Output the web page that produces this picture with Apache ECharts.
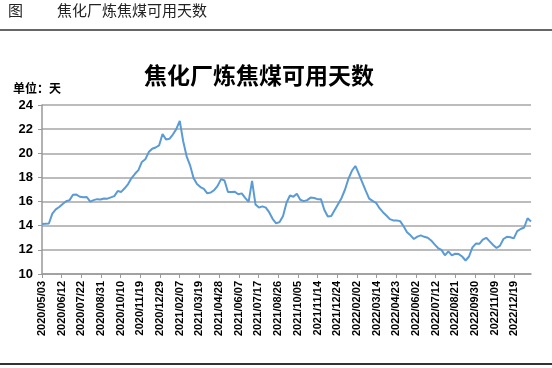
<!DOCTYPE html>
<html><head><meta charset="utf-8">
<script src="https://cdn.jsdelivr.net/npm/echarts@6/dist/echarts.min.js"></script>
<style>html,body{margin:0;padding:0;background:#fff}#c{width:552px;height:368px}</style>
</head><body><div id="c"></div>
<script>
const headerLabel = '图';
const headerTitle = '焦化厂炼焦煤可用天数';
const chartTitle = '焦化厂炼焦煤可用天数';
const unitLabel = '单位：天';

const dates = [
'2020/05/03','2020/05/10','2020/05/17','2020/05/24','2020/05/31','2020/06/07','2020/06/14','2020/06/21','2020/06/28',
'2020/07/05','2020/07/12','2020/07/19','2020/07/26','2020/08/02','2020/08/09','2020/08/16','2020/08/23','2020/08/30',
'2020/09/06','2020/09/13','2020/09/20','2020/09/27','2020/10/04','2020/10/11','2020/10/18','2020/10/25',
'2020/11/01','2020/11/08','2020/11/15','2020/11/22','2020/11/29','2020/12/06','2020/12/13','2020/12/20','2020/12/27',
'2021/01/03','2021/01/10','2021/01/17','2021/01/24','2021/01/31','2021/02/07','2021/02/14','2021/02/21','2021/02/28',
'2021/03/07','2021/03/14','2021/03/21','2021/03/28','2021/04/04','2021/04/11','2021/04/18','2021/04/25',
'2021/05/02','2021/05/09','2021/05/16','2021/05/23','2021/05/30','2021/06/06','2021/06/13','2021/06/20','2021/06/27',
'2021/07/04','2021/07/11','2021/07/18','2021/07/25','2021/08/01','2021/08/08','2021/08/15','2021/08/22','2021/08/29',
'2021/09/05','2021/09/12','2021/09/19','2021/09/26','2021/10/03','2021/10/10','2021/10/17','2021/10/24','2021/10/31',
'2021/11/07','2021/11/14','2021/11/21','2021/11/28','2021/12/05','2021/12/12','2021/12/19','2021/12/26',
'2022/01/02','2022/01/09','2022/01/16','2022/01/23','2022/01/30','2022/02/06','2022/02/13','2022/02/20','2022/02/27',
'2022/03/06','2022/03/13','2022/03/20','2022/03/27','2022/04/03','2022/04/10','2022/04/17','2022/04/24',
'2022/05/01','2022/05/08','2022/05/15','2022/05/22','2022/05/29','2022/06/05','2022/06/12','2022/06/19','2022/06/26',
'2022/07/03','2022/07/10','2022/07/17','2022/07/24','2022/07/31','2022/08/07','2022/08/14','2022/08/21','2022/08/28',
'2022/09/04','2022/09/11','2022/09/18','2022/09/25','2022/10/02','2022/10/09','2022/10/16','2022/10/23','2022/10/30',
'2022/11/06','2022/11/13','2022/11/20','2022/11/27','2022/12/04','2022/12/11','2022/12/18','2022/12/25',
'2023/01/01','2023/01/08','2023/01/15','2023/01/22'
];

const values = [
14.14,14.16,14.18,15.0,15.35,15.55,15.8,16.03,16.12,16.57,
16.58,16.4,16.35,16.38,15.99,16.12,16.2,16.17,16.26,16.24,
16.35,16.45,16.88,16.8,17.1,17.45,17.95,18.3,18.6,19.28,
19.5,20.1,20.38,20.48,20.65,21.6,21.15,21.2,21.55,22.0,
22.69,21.0,19.75,19.0,17.95,17.45,17.2,17.05,16.68,16.75,
16.95,17.3,17.86,17.75,16.8,16.8,16.82,16.6,16.68,16.3,
15.98,17.72,15.75,15.5,15.6,15.5,15.1,14.55,14.2,14.3,
14.8,15.9,16.5,16.4,16.65,16.15,16.04,16.12,16.33,16.3,
16.2,16.2,15.3,14.77,14.8,15.3,15.8,16.3,17.0,17.9,
18.55,18.95,18.3,17.6,16.9,16.25,16.06,15.9,15.45,15.12,
14.85,14.55,14.44,14.44,14.38,13.95,13.45,13.2,12.9,13.1,
13.2,13.08,13.0,12.78,12.45,12.15,12.0,11.55,11.88,11.55,
11.68,11.65,11.45,11.12,11.45,12.2,12.52,12.5,12.85,13.0,
12.7,12.4,12.15,12.35,12.9,13.08,13.05,12.95,13.55,13.73,
13.85,14.62,14.35
];

const yMin = 10, yMax = 24, yStep = 2;
const xStepDays = 40;

const DAY = 86400000;
function parse(s){const p=s.split('/').map(Number);return Date.UTC(p[0],p[1]-1,p[2]);}
const t0 = parse(dates[0]);
const seriesData = dates.map((d,i)=>[(parse(d)-t0)/DAY, values[i]]);
const xMax = seriesData[seriesData.length-1][0];
function fmt(v){const d=new Date(t0+v*DAY);const p=n=>String(n).padStart(2,'0');return d.getUTCFullYear()+'/'+p(d.getUTCMonth()+1)+'/'+p(d.getUTCDate());}

const FONT = "'Liberation Sans', Arial, 'Noto Sans CJK SC', sans-serif";
const CJK = "'Noto Sans CJK SC', sans-serif";

const chart = echarts.init(document.getElementById('c'), null, {renderer:'canvas'});
chart.setOption({
  animation: false,
  backgroundColor: '#ffffff',
  title: {
    text: chartTitle, left: 254, top: 59, textAlign: 'center',
    textStyle: {fontFamily: CJK, fontSize: 23, fontWeight: 'bold', color: '#000'}
  },
  graphic: [
    {type:'text', left: 8, top: 3, style:{text: headerLabel, font: "15px 'Noto Sans CJK SC'", fill:'#222'}},
    {type:'text', left: 57, top: 3, style:{text: headerTitle, font: "15px 'Noto Sans CJK SC'", fill:'#222'}},
    {type:'line', shape:{x1:0,y1:30,x2:552,y2:30}, style:{stroke:'#333', lineWidth:1.5}},
    {type:'line', shape:{x1:0,y1:364,x2:552,y2:364}, style:{stroke:'#333', lineWidth:2}},
    {type:'text', left: 13, top: 82, style:{text: unitLabel, font: "bold 12px 'Noto Sans CJK SC'", fill:'#000'}}
  ],
  grid: {left: 42, right: 21, top: 105, bottom: 94, containLabel: false},
  xAxis: {
    type: 'value', min: 0, max: xMax, interval: xStepDays,
    axisLine: {show: true, lineStyle: {color: '#999', width: 1.5}},
    axisTick: {show: true, length: 4, lineStyle: {color: '#999'}},
    splitLine: {show: false},
    axisLabel: {
      rotate: 90, margin: 7, showMaxLabel: false,
      fontFamily: FONT, fontSize: 11, fontWeight: 'bold', color: '#000',
      formatter: v => (v % xStepDays === 0 ? fmt(v) : '')
    }
  },
  yAxis: {
    type: 'value', min: yMin, max: yMax, interval: yStep,
    axisLine: {show: true, lineStyle: {color: '#999', width: 1.5}},
    axisTick: {show: true, length: 4, lineStyle: {color: '#999'}},
    splitLine: {show: true, lineStyle: {color: '#a6a6a6', width: 1.5}},
    axisLabel: {margin: 9, fontFamily: FONT, fontSize: 13, fontWeight: 'bold', color: '#000'}
  },
  series: [{
    type: 'line', data: seriesData, showSymbol: false, symbol: 'none',
    lineStyle: {color: '#5b9bd5', width: 2}, itemStyle: {color: '#5b9bd5'}
  }]
});
</script></body></html>
